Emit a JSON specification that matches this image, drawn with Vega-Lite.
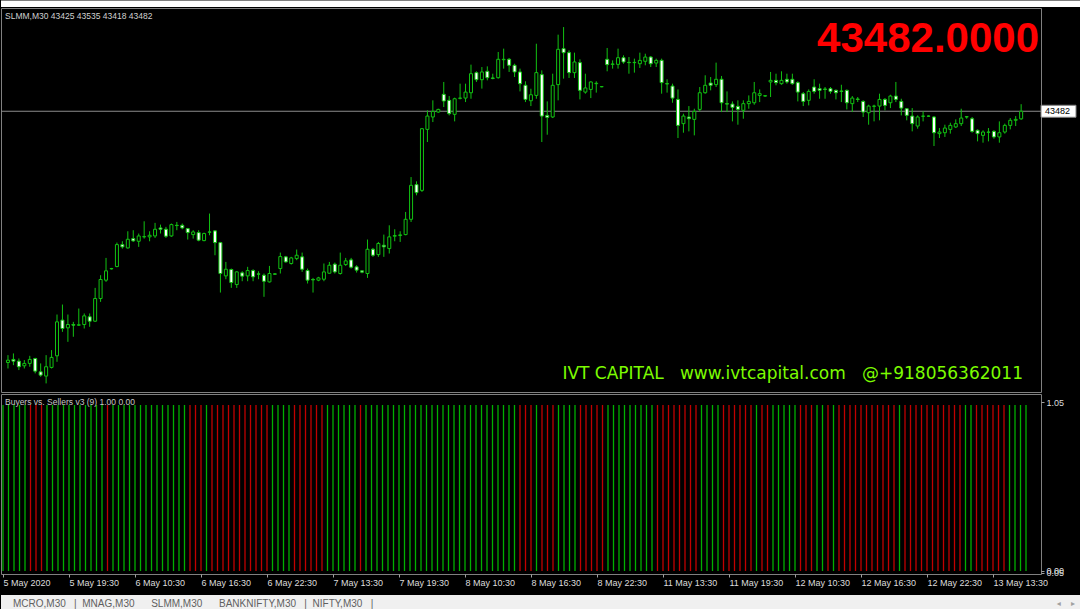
{
"$schema": "https://vega.github.io/schema/vega-lite/v6.json",
"background": "#000000",
"padding": 0,
"spacing": 0,
"config": {"view": {"stroke": "#808080", "strokeWidth": 1}, "font": "Liberation Sans"},
"datasets": {
"candles": [
{"i":0,"o":41596,"h":41651,"l":41551,"c":41613,"s":"g"},
{"i":1,"o":41619,"h":41664,"l":41576,"c":41606,"s":"g"},
{"i":2,"o":41606,"h":41626,"l":41539,"c":41564,"s":"g"},
{"i":3,"o":41571,"h":41614,"l":41551,"c":41589,"s":"g"},
{"i":4,"o":41589,"h":41646,"l":41564,"c":41619,"s":"g"},
{"i":5,"o":41626,"h":41631,"l":41514,"c":41531,"s":"r"},
{"i":6,"o":41526,"h":41589,"l":41489,"c":41501,"s":"r"},
{"i":7,"o":41494,"h":41651,"l":41439,"c":41564,"s":"r"},
{"i":8,"o":41559,"h":41689,"l":41551,"c":41634,"s":"g"},
{"i":9,"o":41646,"h":41956,"l":41601,"c":41901,"s":"g"},
{"i":10,"o":41914,"h":42031,"l":41826,"c":41851,"s":"g"},
{"i":11,"o":41856,"h":41956,"l":41751,"c":41881,"s":"g"},
{"i":12,"o":41881,"h":41901,"l":41789,"c":41876,"s":"g"},
{"i":13,"o":41876,"h":42001,"l":41871,"c":41879,"s":"g"},
{"i":14,"o":41881,"h":41964,"l":41851,"c":41946,"s":"g"},
{"i":15,"o":41939,"h":41964,"l":41864,"c":41906,"s":"g"},
{"i":16,"o":41906,"h":42156,"l":41901,"c":42076,"s":"g"},
{"i":17,"o":42076,"h":42251,"l":42051,"c":42219,"s":"g"},
{"i":18,"o":42214,"h":42381,"l":42201,"c":42284,"s":"g"},
{"i":19,"o":42299,"h":42306,"l":42294,"c":42301,"s":"r"},
{"i":20,"o":42316,"h":42496,"l":42311,"c":42481,"s":"g"},
{"i":21,"o":42481,"h":42506,"l":42451,"c":42464,"s":"g"},
{"i":22,"o":42456,"h":42581,"l":42451,"c":42521,"s":"g"},
{"i":23,"o":42526,"h":42589,"l":42501,"c":42509,"s":"g"},
{"i":24,"o":42506,"h":42564,"l":42464,"c":42546,"s":"g"},
{"i":25,"o":42539,"h":42656,"l":42526,"c":42541,"s":"g"},
{"i":26,"o":42539,"h":42581,"l":42506,"c":42551,"s":"g"},
{"i":27,"o":42546,"h":42644,"l":42531,"c":42596,"s":"g"},
{"i":28,"o":42606,"h":42631,"l":42564,"c":42596,"s":"g"},
{"i":29,"o":42596,"h":42614,"l":42531,"c":42544,"s":"g"},
{"i":30,"o":42546,"h":42639,"l":42539,"c":42631,"s":"g"},
{"i":31,"o":42626,"h":42651,"l":42589,"c":42624,"s":"g"},
{"i":32,"o":42626,"h":42639,"l":42596,"c":42606,"s":"g"},
{"i":33,"o":42601,"h":42606,"l":42519,"c":42571,"s":"g"},
{"i":34,"o":42556,"h":42589,"l":42526,"c":42576,"s":"r"},
{"i":35,"o":42571,"h":42589,"l":42506,"c":42514,"s":"r"},
{"i":36,"o":42511,"h":42571,"l":42506,"c":42564,"s":"r"},
{"i":37,"o":42574,"h":42714,"l":42551,"c":42576,"s":"g"},
{"i":38,"o":42584,"h":42589,"l":42401,"c":42496,"s":"r"},
{"i":39,"o":42496,"h":42501,"l":42121,"c":42264,"s":"r"},
{"i":40,"o":42246,"h":42351,"l":42221,"c":42296,"s":"r"},
{"i":41,"o":42294,"h":42301,"l":42156,"c":42196,"s":"r"},
{"i":42,"o":42181,"h":42281,"l":42156,"c":42276,"s":"r"},
{"i":43,"o":42269,"h":42281,"l":42206,"c":42244,"s":"r"},
{"i":44,"o":42246,"h":42314,"l":42206,"c":42286,"s":"r"},
{"i":45,"o":42286,"h":42296,"l":42206,"c":42239,"s":"r"},
{"i":46,"o":42261,"h":42281,"l":42221,"c":42259,"s":"r"},
{"i":47,"o":42251,"h":42264,"l":42089,"c":42206,"s":"r"},
{"i":48,"o":42201,"h":42321,"l":42196,"c":42264,"s":"r"},
{"i":49,"o":42261,"h":42266,"l":42256,"c":42259,"s":"g"},
{"i":50,"o":42301,"h":42421,"l":42264,"c":42391,"s":"g"},
{"i":51,"o":42389,"h":42396,"l":42346,"c":42351,"s":"g"},
{"i":52,"o":42339,"h":42389,"l":42331,"c":42381,"s":"g"},
{"i":53,"o":42376,"h":42444,"l":42364,"c":42401,"s":"r"},
{"i":54,"o":42389,"h":42421,"l":42276,"c":42296,"s":"r"},
{"i":55,"o":42286,"h":42301,"l":42189,"c":42214,"s":"r"},
{"i":56,"o":42219,"h":42231,"l":42121,"c":42216,"s":"r"},
{"i":57,"o":42214,"h":42239,"l":42206,"c":42231,"s":"r"},
{"i":58,"o":42221,"h":42339,"l":42206,"c":42276,"s":"r"},
{"i":59,"o":42266,"h":42351,"l":42264,"c":42326,"s":"g"},
{"i":60,"o":42334,"h":42346,"l":42264,"c":42276,"s":"g"},
{"i":61,"o":42264,"h":42421,"l":42256,"c":42326,"s":"g"},
{"i":62,"o":42331,"h":42381,"l":42321,"c":42359,"s":"g"},
{"i":63,"o":42366,"h":42381,"l":42301,"c":42311,"s":"g"},
{"i":64,"o":42314,"h":42326,"l":42271,"c":42289,"s":"g"},
{"i":65,"o":42284,"h":42289,"l":42266,"c":42274,"s":"r"},
{"i":66,"o":42264,"h":42519,"l":42231,"c":42446,"s":"g"},
{"i":67,"o":42446,"h":42456,"l":42389,"c":42401,"s":"g"},
{"i":68,"o":42406,"h":42501,"l":42389,"c":42489,"s":"g"},
{"i":69,"o":42476,"h":42556,"l":42389,"c":42464,"s":"g"},
{"i":70,"o":42451,"h":42626,"l":42414,"c":42539,"s":"g"},
{"i":71,"o":42544,"h":42596,"l":42506,"c":42549,"s":"g"},
{"i":72,"o":42549,"h":42581,"l":42501,"c":42554,"s":"g"},
{"i":73,"o":42556,"h":42726,"l":42551,"c":42671,"s":"g"},
{"i":74,"o":42671,"h":42988,"l":42651,"c":42926,"s":"g"},
{"i":75,"o":42931,"h":42956,"l":42851,"c":42871,"s":"g"},
{"i":76,"o":42888,"h":43356,"l":42876,"c":43351,"s":"g"},
{"i":77,"o":43346,"h":43489,"l":43251,"c":43446,"s":"g"},
{"i":78,"o":43439,"h":43564,"l":43401,"c":43481,"s":"g"},
{"i":79,"o":43476,"h":43501,"l":43471,"c":43496,"s":"g"},
{"i":80,"o":43609,"h":43702,"l":43514,"c":43559,"s":"g"},
{"i":81,"o":43564,"h":43596,"l":43451,"c":43464,"s":"g"},
{"i":82,"o":43459,"h":43584,"l":43406,"c":43576,"s":"g"},
{"i":83,"o":43579,"h":43689,"l":43571,"c":43581,"s":"g"},
{"i":84,"o":43581,"h":43689,"l":43551,"c":43626,"s":"g"},
{"i":85,"o":43621,"h":43832,"l":43576,"c":43764,"s":"g"},
{"i":86,"o":43772,"h":43782,"l":43702,"c":43719,"s":"g"},
{"i":87,"o":43719,"h":43814,"l":43652,"c":43777,"s":"g"},
{"i":88,"o":43782,"h":43819,"l":43714,"c":43734,"s":"g"},
{"i":89,"o":43732,"h":43764,"l":43722,"c":43729,"s":"g"},
{"i":90,"o":43734,"h":43927,"l":43727,"c":43872,"s":"g"},
{"i":91,"o":43869,"h":43952,"l":43802,"c":43872,"s":"g"},
{"i":92,"o":43872,"h":43882,"l":43777,"c":43827,"s":"g"},
{"i":93,"o":43827,"h":43839,"l":43739,"c":43777,"s":"g"},
{"i":94,"o":43777,"h":43802,"l":43631,"c":43689,"s":"r"},
{"i":95,"o":43677,"h":43707,"l":43551,"c":43571,"s":"r"},
{"i":96,"o":43561,"h":43651,"l":43521,"c":43606,"s":"r"},
{"i":97,"o":43601,"h":43989,"l":43576,"c":43772,"s":"g"},
{"i":98,"o":43757,"h":43789,"l":43251,"c":43446,"s":"r"},
{"i":99,"o":43451,"h":43556,"l":43306,"c":43436,"s":"r"},
{"i":100,"o":43439,"h":43764,"l":43431,"c":43677,"s":"r"},
{"i":101,"o":43682,"h":44057,"l":43564,"c":43947,"s":"g"},
{"i":102,"o":43952,"h":44114,"l":43727,"c":43922,"s":"g"},
{"i":103,"o":43922,"h":43939,"l":43732,"c":43772,"s":"g"},
{"i":104,"o":43772,"h":43922,"l":43732,"c":43852,"s":"g"},
{"i":105,"o":43847,"h":43872,"l":43571,"c":43639,"s":"r"},
{"i":106,"o":43626,"h":43764,"l":43614,"c":43657,"s":"r"},
{"i":107,"o":43646,"h":43707,"l":43581,"c":43702,"s":"r"},
{"i":108,"o":43689,"h":43707,"l":43622,"c":43692,"s":"r"},
{"i":109,"o":43666,"h":43669,"l":43662,"c":43667,"s":"r"},
{"i":110,"o":43872,"h":43957,"l":43782,"c":43832,"s":"g"},
{"i":111,"o":43834,"h":43864,"l":43802,"c":43837,"s":"g"},
{"i":112,"o":43834,"h":43952,"l":43802,"c":43884,"s":"g"},
{"i":113,"o":43884,"h":43902,"l":43839,"c":43852,"s":"g"},
{"i":114,"o":43849,"h":43889,"l":43764,"c":43847,"s":"g"},
{"i":115,"o":43847,"h":43877,"l":43772,"c":43849,"s":"g"},
{"i":116,"o":43839,"h":43922,"l":43807,"c":43864,"s":"g"},
{"i":117,"o":43857,"h":43914,"l":43827,"c":43889,"s":"g"},
{"i":118,"o":43889,"h":43897,"l":43814,"c":43839,"s":"g"},
{"i":119,"o":43844,"h":43877,"l":43814,"c":43864,"s":"r"},
{"i":120,"o":43864,"h":43877,"l":43614,"c":43697,"s":"r"},
{"i":121,"o":43689,"h":43722,"l":43622,"c":43687,"s":"r"},
{"i":122,"o":43671,"h":43689,"l":43546,"c":43581,"s":"r"},
{"i":123,"o":43571,"h":43646,"l":43281,"c":43376,"s":"r"},
{"i":124,"o":43389,"h":43464,"l":43321,"c":43446,"s":"r"},
{"i":125,"o":43439,"h":43521,"l":43331,"c":43426,"s":"r"},
{"i":126,"o":43421,"h":43501,"l":43301,"c":43481,"s":"r"},
{"i":127,"o":43496,"h":43664,"l":43481,"c":43621,"s":"g"},
{"i":128,"o":43621,"h":43752,"l":43614,"c":43677,"s":"g"},
{"i":129,"o":43694,"h":43739,"l":43639,"c":43677,"s":"g"},
{"i":130,"o":43682,"h":43847,"l":43664,"c":43722,"s":"g"},
{"i":131,"o":43722,"h":43747,"l":43476,"c":43546,"s":"r"},
{"i":132,"o":43539,"h":43631,"l":43476,"c":43536,"s":"r"},
{"i":133,"o":43536,"h":43556,"l":43406,"c":43511,"s":"r"},
{"i":134,"o":43519,"h":43564,"l":43381,"c":43496,"s":"r"},
{"i":135,"o":43489,"h":43564,"l":43426,"c":43539,"s":"r"},
{"i":136,"o":43539,"h":43601,"l":43501,"c":43556,"s":"r"},
{"i":137,"o":43546,"h":43702,"l":43531,"c":43621,"s":"g"},
{"i":138,"o":43601,"h":43646,"l":43551,"c":43614,"s":"r"},
{"i":139,"o":43596,"h":43601,"l":43591,"c":43599,"s":"r"},
{"i":140,"o":43702,"h":43777,"l":43589,"c":43714,"s":"g"},
{"i":141,"o":43714,"h":43764,"l":43677,"c":43697,"s":"g"},
{"i":142,"o":43689,"h":43782,"l":43681,"c":43714,"s":"g"},
{"i":143,"o":43722,"h":43764,"l":43689,"c":43702,"s":"g"},
{"i":144,"o":43722,"h":43764,"l":43681,"c":43689,"s":"g"},
{"i":145,"o":43697,"h":43707,"l":43556,"c":43626,"s":"r"},
{"i":146,"o":43614,"h":43627,"l":43521,"c":43556,"s":"r"},
{"i":147,"o":43564,"h":43646,"l":43526,"c":43631,"s":"r"},
{"i":148,"o":43664,"h":43722,"l":43614,"c":43631,"s":"g"},
{"i":149,"o":43652,"h":43689,"l":43576,"c":43639,"s":"g"},
{"i":150,"o":43649,"h":43664,"l":43576,"c":43646,"s":"r"},
{"i":151,"o":43652,"h":43664,"l":43614,"c":43631,"s":"g"},
{"i":152,"o":43639,"h":43646,"l":43571,"c":43621,"s":"r"},
{"i":153,"o":43634,"h":43681,"l":43551,"c":43631,"s":"r"},
{"i":154,"o":43639,"h":43646,"l":43496,"c":43546,"s":"r"},
{"i":155,"o":43539,"h":43596,"l":43476,"c":43581,"s":"r"},
{"i":156,"o":43574,"h":43589,"l":43551,"c":43571,"s":"r"},
{"i":157,"o":43556,"h":43564,"l":43439,"c":43476,"s":"r"},
{"i":158,"o":43471,"h":43531,"l":43381,"c":43521,"s":"r"},
{"i":159,"o":43519,"h":43531,"l":43406,"c":43521,"s":"r"},
{"i":160,"o":43521,"h":43614,"l":43414,"c":43571,"s":"r"},
{"i":161,"o":43571,"h":43581,"l":43489,"c":43526,"s":"r"},
{"i":162,"o":43546,"h":43606,"l":43506,"c":43596,"s":"r"},
{"i":163,"o":43596,"h":43702,"l":43551,"c":43571,"s":"g"},
{"i":164,"o":43556,"h":43576,"l":43451,"c":43506,"s":"r"},
{"i":165,"o":43501,"h":43506,"l":43414,"c":43451,"s":"r"},
{"i":166,"o":43446,"h":43506,"l":43331,"c":43389,"s":"r"},
{"i":167,"o":43371,"h":43451,"l":43351,"c":43439,"s":"r"},
{"i":168,"o":43444,"h":43481,"l":43406,"c":43446,"s":"r"},
{"i":169,"o":43446,"h":43451,"l":43441,"c":43445,"s":"r"},
{"i":170,"o":43439,"h":43446,"l":43221,"c":43321,"s":"r"},
{"i":171,"o":43314,"h":43356,"l":43281,"c":43326,"s":"r"},
{"i":172,"o":43321,"h":43381,"l":43289,"c":43356,"s":"r"},
{"i":173,"o":43346,"h":43396,"l":43314,"c":43376,"s":"r"},
{"i":174,"o":43364,"h":43421,"l":43356,"c":43389,"s":"r"},
{"i":175,"o":43389,"h":43501,"l":43371,"c":43431,"s":"g"},
{"i":176,"o":43441,"h":43446,"l":43426,"c":43439,"s":"g"},
{"i":177,"o":43426,"h":43439,"l":43321,"c":43331,"s":"r"},
{"i":178,"o":43339,"h":43346,"l":43256,"c":43314,"s":"r"},
{"i":179,"o":43301,"h":43339,"l":43246,"c":43326,"s":"r"},
{"i":180,"o":43324,"h":43356,"l":43256,"c":43326,"s":"r"},
{"i":181,"o":43331,"h":43339,"l":43276,"c":43289,"s":"r"},
{"i":182,"o":43289,"h":43406,"l":43246,"c":43321,"s":"r"},
{"i":183,"o":43326,"h":43389,"l":43314,"c":43376,"s":"g"},
{"i":184,"o":43376,"h":43431,"l":43346,"c":43414,"s":"g"},
{"i":185,"o":43414,"h":43446,"l":43371,"c":43421,"s":"g"},
{"i":186,"o":43425,"h":43535,"l":43418,"c":43482,"s":"g"}
],
"last": [{"p": 43482, "t": "43482", "big": "43482.0000", "head": "SLMM,M30  43425 43535 43418 43482", "brand": "IVT CAPITAL\u00a0\u00a0\u00a0www.ivtcapital.com\u00a0\u00a0\u00a0@+918056362011"}]
},
"vconcat": [
{
"width": 1080, "height": 6,
"view": {"fill": "#ffffff", "stroke": null},
"data": {"values": [{"t": ""}]},
"mark": {"type": "rule", "color": "#ffffff", "strokeWidth": 1},
"encoding": {"y": {"value": 0}}
},
{
"width": 1040, "height": 384,
"view": {"fill": "#000000", "stroke": "#808080"},
"layer": [
{
"data": {"name": "last"},
"mark": {"type": "rule", "color": "#8c8c8c", "strokeWidth": 1},
"encoding": {"y": {"field": "p", "type": "quantitative", "scale": {"domain": [41374.4, 44257.2], "nice": false, "zero": false},
 "axis": {"orient": "right", "values": [44002, 43747, 43242, 42992, 42737, 42482, 42232, 41977, 41727, 41472], "format": "d", "title": null, "grid": false, "domain": false, "tickSize": 4, "tickColor": "#a0a0a0", "labelColor": "#dcdcdc", "labelFont": "Liberation Sans", "labelFontSize": 9, "labelPadding": 2, "labelOverlap": false, "labelFlush": false, "labelBound": false}}}
},
{
"data": {"name": "candles"},
"mark": {"type": "rule", "color": "#12c212", "strokeWidth": 1},
"encoding": {
 "x": {"field": "i", "type": "quantitative", "scale": {"domain": [-0.3636, 188.727], "nice": false, "zero": false}, "axis": null},
 "y": {"field": "l", "type": "quantitative", "axis": null},
 "y2": {"field": "h"}
}
},
{
"data": {"name": "candles"},
"mark": {"type": "bar", "width": 3, "stroke": "#12c212", "strokeWidth": 1},
"encoding": {
 "x": {"field": "i", "type": "quantitative", "axis": null},
 "y": {"field": "o", "type": "quantitative", "axis": null},
 "y2": {"field": "c"},
 "fill": {"condition": {"test": "datum.c < datum.o", "value": "#ffffff"}, "value": "#000000"}
}
},
{
"data": {"name": "last"},
"mark": {"type": "point", "shape": "M0,-0.343L2,-0.343L2,0.343L0,0.343Z", "size": 1225, "filled": true, "fill": "#ffffff", "stroke": "#808080", "strokeWidth": 1, "opacity": 1},
"encoding": {"x": {"value": "width"}, "y": {"field": "p", "type": "quantitative", "axis": null}}
},
{
"data": {"name": "last"},
"mark": {"type": "text", "align": "left", "baseline": "middle", "dx": 4, "font": "Liberation Sans", "fontSize": 9, "color": "#000000"},
"encoding": {"x": {"value": "width"}, "y": {"field": "p", "type": "quantitative", "axis": null}, "text": {"field": "t"}}
},
{
"data": {"name": "last"},
"mark": {"type": "text", "align": "right", "baseline": "alphabetic", "dx": -2, "dy": 44, "font": "Liberation Sans", "fontWeight": "bold", "fontSize": 42, "color": "#ff0000"},
"encoding": {"x": {"value": "width"}, "y": {"value": 0}, "text": {"field": "big"}}
},
{
"data": {"name": "last"},
"mark": {"type": "text", "align": "left", "baseline": "alphabetic", "dx": 4, "dy": 11, "font": "Liberation Sans", "fontSize": 8.5, "color": "#d0d0d0"},
"encoding": {"x": {"value": 0}, "y": {"value": 0}, "text": {"field": "head"}}
},
{
"data": {"name": "last"},
"mark": {"type": "text", "align": "right", "baseline": "alphabetic", "dx": -18, "dy": -13, "font": "DejaVu Sans", "fontSize": 17, "color": "#7cfc00"},
"encoding": {"x": {"value": "width"}, "y": {"value": "height"}, "text": {"field": "brand"}}
}
]
},
{
"width": 1040, "height": 180,
"view": {"fill": "#000000", "stroke": "#808080"},
"layer": [
{
"data": {"name": "candles"},
"mark": {"type": "rule", "strokeWidth": 1.3},
"encoding": {
 "x": {"field": "i", "type": "quantitative", "scale": {"domain": [-0.3636, 188.727], "nice": false, "zero": false},
  "axis": {"values": [0, 12, 24, 36, 48, 60, 72, 84, 96, 108, 120, 132, 144, 156, 168, 180],
   "labelExpr": "['5 May 2020','5 May 19:30','6 May 10:30','6 May 16:30','6 May 22:30','7 May 13:30','7 May 19:30','8 May 10:30','8 May 16:30','8 May 22:30','11 May 13:30','11 May 19:30','12 May 10:30','12 May 16:30','12 May 22:30','13 May 13:30'][round(datum.value/12)]",
   "labelAlign": "left", "labelBaseline": "top", "labelPadding": 1, "tickSize": 3, "tickColor": "#a0a0a0", "domain": false, "grid": false, "title": null,
   "labelColor": "#dcdcdc", "labelFont": "Liberation Sans", "labelFontSize": 9, "labelOverlap": false, "labelFlush": false, "labelBound": false, "minExtent": 20, "maxExtent": 20}},
 "y": {"datum": 0, "type": "quantitative", "scale": {"domain": [-0.0181, 1.0663], "nice": false, "zero": false},
  "axis": {"orient": "right", "values": [1.018, 0, -0.012], "labelExpr": "datum.value > 0.5 ? '1.05' : (datum.value == 0 ? '0.00' : '0.05')", "title": null, "grid": false, "domain": false, "tickSize": 3, "tickColor": "#a0a0a0", "labelColor": "#dcdcdc", "labelFont": "Liberation Sans", "labelFontSize": 9, "labelPadding": 2, "labelOverlap": false, "labelFlush": false, "labelBound": false}},
 "y2": {"datum": 1},
 "color": {"field": "s", "type": "nominal", "scale": {"domain": ["g", "r"], "range": ["#00b000", "#c00000"]}, "legend": null}
}
},
{
"data": {"values": [{"t": "Buyers vs. Sellers v3 (9) 1.00 0.00"}]},
"mark": {"type": "text", "align": "left", "baseline": "alphabetic", "dx": 4, "dy": 11, "font": "Liberation Sans", "fontSize": 8.5, "color": "#c8c8c8"},
"encoding": {"x": {"value": 0}, "y": {"value": 0}, "text": {"field": "t"}}
}
]
},
{
"width": 1080, "height": 19,
"view": {"fill": "#f0f0f0", "stroke": null},
"layer": [
{
"data": {"values": [{"t": "MCRO,M30\u00a0\u00a0\u00a0|\u00a0\u00a0MNAG,M30\u00a0\u00a0\u00a0\u00a0\u00a0\u00a0SLMM,M30\u00a0\u00a0\u00a0\u00a0\u00a0\u00a0BANKNIFTY,M30\u00a0\u00a0\u00a0|\u00a0\u00a0NIFTY,M30\u00a0\u00a0\u00a0|"}]},
"mark": {"type": "text", "align": "left", "baseline": "middle", "dx": 12, "font": "Liberation Sans", "fontSize": 10, "color": "#606060"},
"encoding": {"x": {"value": 0}, "y": {"value": 9}, "text": {"field": "t"}}
},
{
"data": {"values": [{"t": "\u25c2\u00a0\u00a0\u00a0\u00a0\u25b8"}]},
"mark": {"type": "text", "align": "right", "baseline": "middle", "dx": -6, "font": "DejaVu Sans", "fontSize": 8, "color": "#a0a0a0"},
"encoding": {"x": {"value": "width"}, "y": {"value": 9}, "text": {"field": "t"}}
}
]
}
]
}
